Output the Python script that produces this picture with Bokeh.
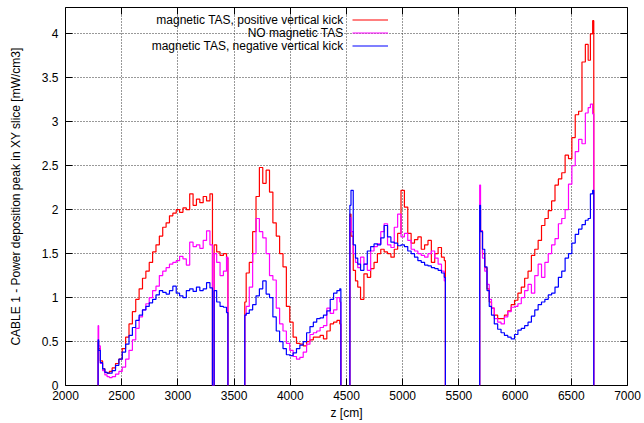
import math
from bokeh.plotting import figure
from bokeh.models import (Range1d, LinearAxis, FixedTicker, Label, Legend, LegendItem,
                          CustomJSTickFormatter)
from bokeh.embed import file_html
from bokeh.resources import INLINE

# ---------------- data (z in cm, values in mW/cm3) ----------------
z_seg1 = [2290, 2300, 2320, 2340, 2360, 2380, 2400, 2430, 2460, 2490, 2520, 2550, 2580, 2610,
          2640, 2670, 2700, 2730, 2760, 2790, 2820, 2850, 2880, 2910, 2940, 2970, 3000, 3030,
          3060, 3090, 3120, 3150, 3180, 3210, 3240, 3270, 3300, 3315, 3330, 3360, 3390, 3420, 3445]
red_seg1 = [0.50, 0.42, 0.28, 0.19, 0.15, 0.14, 0.16, 0.20, 0.25, 0.30, 0.42, 0.55, 0.70, 0.84,
            0.98, 1.10, 1.22, 1.30, 1.40, 1.52, 1.60, 1.70, 1.80, 1.85, 1.93, 1.96, 2.00, 1.97,
            2.02, 2.00, 2.18, 2.05, 2.12, 2.08, 2.15, 2.10, 2.18, 0.0, 1.60, 1.52, 1.48, 1.50, 1.45]
mag_seg1 = [0.68, 0.45, 0.25, 0.17, 0.12, 0.10, 0.09, 0.10, 0.13, 0.16, 0.21, 0.30, 0.40, 0.52,
            0.65, 0.78, 0.86, 0.93, 1.00, 1.08, 1.13, 1.25, 1.30, 1.34, 1.38, 1.40, 1.42, 1.47,
            1.44, 1.37, 1.63, 1.58, 1.60, 1.56, 1.65, 1.76, 1.60, 0.0, 1.50, 1.40, 1.25, 1.30, 1.46]
blue_seg1 = [0.52, 0.40, 0.26, 0.19, 0.15, 0.14, 0.14, 0.17, 0.23, 0.30, 0.38, 0.47, 0.57, 0.66,
             0.74, 0.80, 0.86, 0.90, 0.94, 0.98, 1.03, 1.08, 1.06, 1.04, 1.08, 1.13, 1.05, 1.02,
             1.00, 1.08, 1.10, 1.07, 1.12, 1.08, 1.10, 1.17, 1.11, 0.0, 1.08, 0.95, 0.90, 0.89, 0.83]

z_seg2 = [3595, 3620, 3650, 3680, 3710, 3740, 3770, 3800, 3830, 3860, 3890, 3920, 3950, 3980,
          4010, 4040, 4070, 4100, 4130, 4160, 4190, 4220, 4250, 4280, 4310, 4340, 4370, 4400,
          4430, 4450]
red_seg2 = [0.95, 1.28, 1.40, 1.75, 2.15, 2.48, 2.30, 2.45, 2.20, 1.85, 1.70, 1.50, 1.35, 0.90,
            0.72, 0.55, 0.48, 0.47, 0.45, 0.50, 0.52, 0.55, 0.55, 0.57, 0.53, 0.62, 0.70, 0.72,
            0.74, 0.70]
mag_seg2 = [0.80, 0.90, 1.12, 1.50, 1.90, 1.75, 1.68, 1.50, 1.25, 1.20, 0.88, 0.70, 0.62, 0.48,
            0.40, 0.33, 0.30, 0.32, 0.38, 0.47, 0.58, 0.60, 0.62, 0.66, 0.68, 0.88, 0.82, 0.86,
            1.00, 0.95]
blue_seg2 = [0.80, 0.82, 0.86, 0.92, 1.02, 1.10, 1.19, 1.04, 1.00, 0.78, 0.62, 0.50, 0.42, 0.35,
             0.34, 0.37, 0.42, 0.46, 0.50, 0.60, 0.67, 0.72, 0.76, 0.77, 0.80, 0.85, 0.98, 1.05,
             1.08, 1.10]

z_seg3 = [4530, 4550, 4570, 4590, 4610, 4640, 4670, 4700, 4730, 4760, 4790, 4820, 4850, 4880,
          4910, 4940, 4970, 5000, 5030, 5060, 5090, 5120, 5150, 5180, 5210, 5240, 5270, 5300,
          5330, 5360, 5380]
red_seg3 = [1.95, 1.70, 1.31, 1.19, 1.12, 0.98, 1.27, 1.23, 1.33, 1.40, 1.50, 1.55, 1.52, 1.50,
            1.46, 1.55, 1.73, 2.22, 2.03, 1.73, 1.62, 1.66, 1.69, 1.55, 1.60, 1.65, 1.40, 1.50,
            1.57, 1.46, 1.42]
mag_seg3 = [1.91, 1.75, 1.50, 1.40, 1.34, 1.46, 1.38, 1.31, 1.53, 1.58, 1.61, 1.75, 1.84, 1.60,
            1.57, 1.80, 1.95, 1.69, 1.73, 1.65, 1.55, 1.53, 1.50, 1.48, 1.46, 1.50, 1.53, 1.45,
            1.38, 1.30, 1.19]
blue_seg3 = [2.05, 2.22, 1.60, 1.45, 1.38, 1.31, 1.38, 1.53, 1.58, 1.61, 1.60, 1.68, 1.82, 1.69,
             1.63, 1.62, 1.59, 1.60, 1.58, 1.53, 1.50, 1.46, 1.42, 1.40, 1.37, 1.36, 1.34, 1.33,
             1.31, 1.28, 1.23]

z_seg4 = [5685, 5700, 5720, 5740, 5760, 5780, 5800, 5830, 5860, 5890, 5920, 5950, 5980, 6010,
          6040, 6070, 6100, 6130, 6160, 6190, 6220, 6250, 6280, 6310, 6340, 6370, 6400, 6430,
          6460, 6490, 6520, 6550, 6580, 6610, 6640, 6660, 6680, 6700]
red_seg4 = [2.00, 1.76, 1.50, 1.34, 1.10, 0.95, 0.88, 0.80, 0.76, 0.76, 0.80, 0.85, 0.92, 0.97,
            1.05, 1.12, 1.22, 1.30, 1.48, 1.55, 1.65, 1.82, 1.90, 1.99, 2.10, 2.28, 2.35, 2.42,
            2.62, 2.58, 2.82, 3.08, 3.12, 3.68, 3.88, 3.70, 4.00, 4.15]
mag_seg4 = [2.28, 1.76, 1.45, 1.30, 1.15, 0.98, 0.88, 0.76, 0.72, 0.70, 0.78, 0.84, 0.89, 0.90,
            0.93, 1.00, 1.08, 1.15, 1.05, 1.25, 1.38, 1.23, 1.40, 1.50, 1.60, 1.67, 1.84, 1.90,
            2.00, 2.29, 2.50, 2.66, 2.80, 2.75, 3.10, 3.16, 3.20, 3.09]
blue_seg4 = [2.05, 1.75, 1.55, 1.35, 1.08, 0.90, 0.80, 0.70, 0.64, 0.60, 0.57, 0.55, 0.53, 0.58,
             0.63, 0.65, 0.68, 0.72, 0.79, 0.86, 0.92, 0.95, 0.98, 1.03, 1.05, 1.12, 1.23, 1.30,
             1.45, 1.50, 1.62, 1.72, 1.78, 1.83, 1.88, 1.90, 2.18, 2.22]

series_labels = ["magnetic TAS, positive vertical kick", "NO magnetic TAS",
                 "magnetic TAS, negative vertical kick"]
series_colors = ["#ff0000", "#ff00ff", "#0000ff"]

x_ticks = [2000, 2500, 3000, 3500, 4000, 4500, 5000, 5500, 6000, 6500, 7000]
y_ticks = [0, 0.5, 1, 1.5, 2, 2.5, 3, 3.5, 4]

segments_z = [z_seg1, z_seg2, z_seg3, z_seg4]
series_values = [
    [red_seg1, red_seg2, red_seg3, red_seg4],
    [mag_seg1, mag_seg2, mag_seg3, mag_seg4],
    [blue_seg1, blue_seg2, blue_seg3, blue_seg4],
]


def stairs(zs, vs):
    """Histogram-style outline: centred steps, dropping to zero at both segment edges."""
    xs = [zs[0], zs[0]]
    ys = [0.0, vs[0]]
    for i in range(1, len(zs)):
        m = 0.5 * (zs[i - 1] + zs[i])
        xs += [m, m]
        ys += [vs[i - 1], vs[i]]
    xs += [zs[-1], zs[-1]]
    ys += [vs[-1], 0.0]
    return xs, ys


FONT = "Liberation Sans"

p = figure(width=644, height=423, output_backend="svg", toolbar_location=None,
           x_range=Range1d(2000, 7000), y_range=Range1d(0, 4.3),
           min_border_left=65, min_border_right=17, min_border_top=7, min_border_bottom=38)
p.background_fill_color = "white"
p.border_fill_color = "white"
p.outline_line_color = "black"
p.outline_line_width = 1

for ax in (p.xaxis[0], p.yaxis[0]):
    ax.major_tick_in = 7
    ax.major_tick_out = 0
    ax.minor_tick_line_color = None
    ax.axis_line_color = None
    ax.major_tick_line_color = "black"
    ax.major_label_text_font = FONT
    ax.major_label_text_font_size = "12px"
    ax.major_label_text_color = "black"
    ax.axis_label_text_font = FONT
    ax.axis_label_text_font_size = "12px"
    ax.axis_label_text_font_style = "normal"
    ax.axis_label_text_color = "black"

p.xaxis[0].ticker = FixedTicker(ticks=x_ticks)
p.yaxis[0].ticker = FixedTicker(ticks=y_ticks)
p.xaxis[0].major_label_standoff = 5
p.yaxis[0].major_label_standoff = 7
p.xaxis[0].axis_label = "z [cm]"
p.yaxis[0].axis_label = "CABLE 1 - Power deposition peak in XY slice [mW/cm3]"
p.xaxis[0].axis_label_standoff = 3
p.yaxis[0].axis_label_standoff = 16

# mirrored ticks on top and right (gnuplot style)
blank = CustomJSTickFormatter(code="return ''")
ax_top = LinearAxis(ticker=FixedTicker(ticks=x_ticks), formatter=blank,
                    major_tick_in=7, major_tick_out=0, minor_tick_line_color=None,
                    axis_line_color=None, major_label_standoff=0)
ax_right = LinearAxis(ticker=FixedTicker(ticks=y_ticks), formatter=blank,
                      major_tick_in=7, major_tick_out=0, minor_tick_line_color=None,
                      axis_line_color=None, major_label_standoff=0)
p.add_layout(ax_top, "above")
p.add_layout(ax_right, "right")

p.xgrid.ticker = FixedTicker(ticks=x_ticks)
p.ygrid.ticker = FixedTicker(ticks=y_ticks)
for g in (p.xgrid[0], p.ygrid[0]):
    g.grid_line_color = "#333333"
    g.grid_line_dash = "1 2"
    g.grid_line_width = 1

renderers = []
for vals, color in zip(series_values, series_colors):
    xs_all, ys_all = [], []
    for zs, vs in zip(segments_z, vals):
        xs, ys = stairs(zs, vs)
        if xs_all:
            xs_all.append(math.nan)
            ys_all.append(math.nan)
        xs_all += xs
        ys_all += ys
    renderers.append(p.line(xs_all, ys_all, line_color=color, line_width=1.2))

# gnuplot-style key: right-aligned text (Labels) followed by the line samples (Legend glyphs)
row_h = 13
top_row = 366
for i, lab in enumerate(series_labels):
    p.add_layout(Label(x=278, y=top_row - row_h * i, x_units="screen", y_units="screen",
                       text=lab, text_align="right", text_baseline="middle", text_font=FONT,
                       text_font_size="12px", text_color="black"))

key = Legend(items=[LegendItem(label=" ", renderers=[r]) for r in renderers],
             location=(287, top_row - row_h * (len(series_labels) - 1) - row_h / 2),
             orientation="vertical", glyph_width=36, glyph_height=row_h,
             label_width=0, label_height=row_h, label_standoff=0,
             label_text_font_size="1px", spacing=0, padding=0, margin=0,
             border_line_color=None, background_fill_alpha=0)
p.add_layout(key)

open("out.html", "w").write(file_html(p, INLINE))
